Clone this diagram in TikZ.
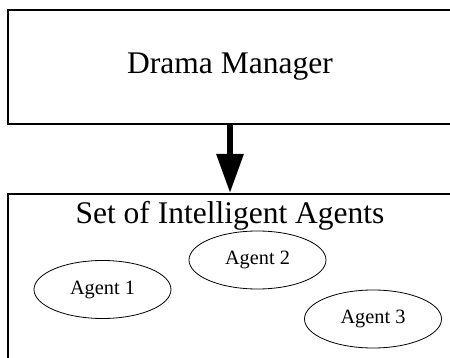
\documentclass[tikz,border=0pt]{standalone}
\usepackage{fontspec}
\setmainfont{Liberation Serif}
\usetikzlibrary{positioning, shapes.geometric, arrows.meta}

\begin{document}
\begin{tikzpicture}[x=1pt, y=-1pt,
    box/.style={draw, line width=1.8pt, minimum width=444pt},
    bigtext/.style={font=\fontsize{31.5}{36}\selectfont},
    agent/.style={draw, ellipse, line width=0.8pt, minimum width=137pt,
      minimum height=58pt, font=\fontsize{20.3}{24}\selectfont}]
        \clip (0, 0) rectangle (450, 358);

        \node (manager) [box, bigtext, minimum height=114pt] at (230, 67) {Drama Manager};
        \node (agents) [box, minimum height=180pt, anchor=north] at (230, 193) {};
        \node (title) [bigtext, below = 5pt of agents.north] {Set of Intelligent Agents};

        \node (agent1) [agent] at (102.5, 289.5) {Agent 1};
        \node (agent2) [agent] at (257.5, 260) {Agent 2};
        \node (agent3) [agent] at (373, 319) {Agent 3};

        \draw [line width = 6pt, -{Triangle[length=39pt, width=26pt]}] (manager) -- (agents);
      \end{tikzpicture}
\end{document}
